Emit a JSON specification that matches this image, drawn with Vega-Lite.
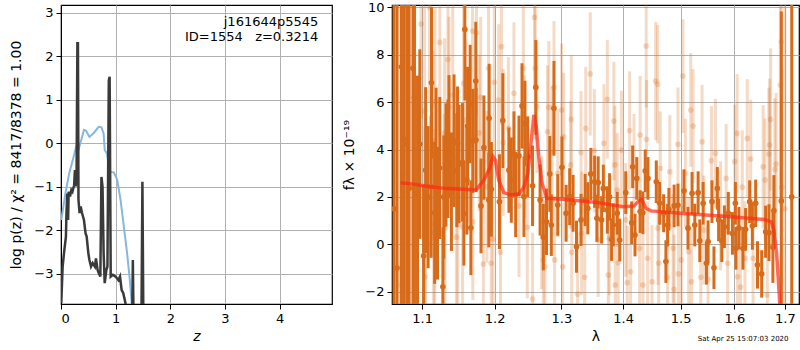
{
"$schema": "https://vega.github.io/schema/vega-lite/v6.json",
"padding": {"left": 9, "top": 0, "right": 0, "bottom": 0},
"background": "white",
"spacing": 9,
"config": {
  "view": {"stroke": "black", "strokeWidth": 1.2},
  "axis": {"gridColor": "#b0b0b0", "gridWidth": 1, "gridOpacity": 1, "domainColor": "black", "tickColor": "black", "labelColor": "black", "titleColor": "black", "labelFont": "DejaVu Sans", "titleFont": "DejaVu Sans", "labelFontSize": 13, "titleFontSize": 14, "titleFontWeight": "normal", "tickSize": 5, "labelPadding": 3, "zindex": 1},
  "text": {"font": "DejaVu Sans"}
},
"datasets": {
  "pzb": [
    {"z":0.006,"p":-1.76},{"z":0.08,"p":-1.15},{"z":0.15,"p":-0.69},{"z":0.23,"p":-0.31},{"z":0.275,"p":-0.08},{"z":0.32,"p":-0.15},{"z":0.37,"p":0.08},{"z":0.42,"p":0.31},{"z":0.46,"p":0.29},{"z":0.52,"p":0.15},{"z":0.6,"p":0.24},{"z":0.69,"p":0.38},{"z":0.74,"p":0.37},{"z":0.78,"p":0.23},{"z":0.8,"p":-0.15},{"z":0.84,"p":-0.23},{"z":0.89,"p":-0.65},{"z":0.97,"p":-0.67},{"z":1.03,"p":-0.84},{"z":1.09,"p":-1.3},{"z":1.15,"p":-1.91},{"z":1.21,"p":-2.52},{"z":1.26,"p":-3.14},{"z":1.29,"p":-3.6},{"z":1.31,"p":-4.0}
  ],
  "pz": [
    {"z":0.005,"p":-3.67},{"z":0.03,"p":-2.83},{"z":0.055,"p":-2.52},{"z":0.09,"p":-2.14},{"z":0.1,"p":-1.6},{"z":0.115,"p":-1.15},{"z":0.13,"p":-1.76},{"z":0.14,"p":-1.11},{"z":0.165,"p":-1.22},{"z":0.19,"p":-1.07},{"z":0.21,"p":-1.11},{"z":0.24,"p":-0.96},{"z":0.255,"p":-0.61},{"z":0.27,"p":-0.99},{"z":0.285,"p":-0.7},{"z":0.3,"p":2.3},{"z":0.31,"p":2.3},{"z":0.32,"p":-1.3},{"z":0.34,"p":-1.6},{"z":0.36,"p":-1.45},{"z":0.385,"p":-1.6},{"z":0.42,"p":-1.76},{"z":0.45,"p":-2.07},{"z":0.47,"p":-2.14},{"z":0.5,"p":-2.52},{"z":0.52,"p":-2.68},{"z":0.55,"p":-2.83},{"z":0.58,"p":-2.75},{"z":0.62,"p":-2.83},{"z":0.64,"p":-2.64},{"z":0.67,"p":-2.91},{"z":0.69,"p":-2.98},{"z":0.72,"p":-3.06},{"z":0.74,"p":-0.77},{"z":0.76,"p":-0.99},{"z":0.78,"p":-2.52},{"z":0.8,"p":-3.21},{"z":0.83,"p":-2.91},{"z":0.85,"p":-2.83},{"z":0.875,"p":1.45},{"z":0.89,"p":1.53},{"z":0.91,"p":-3.06},{"z":0.95,"p":-3.02},{"z":1.0,"p":-3.06},{"z":1.05,"p":-3.14},{"z":1.08,"p":-3.06},{"z":1.11,"p":-3.37},{"z":1.14,"p":-3.44},{"z":1.18,"p":-3.67},{"z":1.2,"p":-4.5},{"z":1.27,"p":-4.5},{"z":1.3,"p":-4.3},{"z":1.315,"p":-2.68},{"z":1.33,"p":-4.3},{"z":1.47,"p":-4.5},{"z":1.49,"p":-0.88},{"z":1.51,"p":-4.5}
  ],
  "light": [
    {"l":1.0723,"f":-1.72,"e":8},{"l":1.0791,"f":3.0,"e":8},{"l":1.0932,"f":-2.25,"e":5},{"l":1.0987,"f":9.3,"e":4},{"l":1.1033,"f":5.62,"e":4.5},{"l":1.1038,"f":0.95,"e":4},{"l":1.1042,"f":-1.37,"e":4},{"l":1.1097,"f":10.0,"e":4},{"l":1.1144,"f":4.16,"e":4},{"l":1.1153,"f":0.49,"e":4},{"l":1.1167,"f":0.86,"e":4},{"l":1.1172,"f":6.02,"e":4},{"l":1.1236,"f":8.52,"e":4},{"l":1.1297,"f":2.0,"e":3.5},{"l":1.1301,"f":4.7,"e":4},{"l":1.1305,"f":0.68,"e":3.5},{"l":1.1347,"f":7.8,"e":4},{"l":1.1361,"f":5.8,"e":3.8},{"l":1.1412,"f":6.3,"e":3.8},{"l":1.1462,"f":0.3,"e":3.5},{"l":1.1482,"f":0.81,"e":3.5},
    {"l":1.1547,"f":0.74,"e":3.4},{"l":1.1561,"f":6.79,"e":3.5},{"l":1.1593,"f":5.24,"e":3.4},{"l":1.1625,"f":4.19,"e":3.3},{"l":1.1686,"f":9.0,"e":3.5},{"l":1.169,"f":0.95,"e":3.3},{"l":1.1742,"f":8.93,"e":3.5},{"l":1.178,"f":4.7,"e":3.3},{"l":1.1801,"f":6.2,"e":3.4},{"l":1.1839,"f":-0.83,"e":3.3},{"l":1.1889,"f":2.43,"e":3.2},{"l":1.1913,"f":7.43,"e":3.3},{"l":1.1951,"f":-0.8,"e":3.2},{"l":1.1978,"f":0.21,"e":3.2},{"l":1.1996,"f":6.84,"e":3.3},{"l":1.2059,"f":6.09,"e":3.2},{"l":1.2085,"f":-0.34,"e":3.2},{"l":1.21,"f":8.34,"e":3.3},{"l":1.2125,"f":4.3,"e":3.1},{"l":1.22,"f":4.9,"e":3},{"l":1.2282,"f":6.37,"e":3},{"l":1.2356,"f":1.62,"e":3},{"l":1.2421,"f":7.43,"e":3},{"l":1.244,"f":4.12,"e":3},{"l":1.248,"f":0.72,"e":3},
    {"l":1.2559,"f":-2.31,"e":2.8},{"l":1.2589,"f":9.58,"e":3},{"l":1.26,"f":7.43,"e":3},{"l":1.2623,"f":5.81,"e":2.8},{"l":1.2697,"f":0.91,"e":2.8},{"l":1.2722,"f":-0.66,"e":2.8},{"l":1.2747,"f":-0.95,"e":2.8},{"l":1.2786,"f":4.75,"e":2.8},{"l":1.2807,"f":5.78,"e":2.8},{"l":1.2856,"f":3.87,"e":2.8},{"l":1.2886,"f":6.62,"e":2.8},{"l":1.2896,"f":-0.66,"e":2.7},{"l":1.2945,"f":3.0,"e":2.7},{"l":1.3005,"f":5.67,"e":2.8},{"l":1.3021,"f":-0.95,"e":2.7},{"l":1.3038,"f":4.54,"e":2.7},{"l":1.3148,"f":3.35,"e":2.7},{"l":1.3157,"f":5.27,"e":2.7},{"l":1.3163,"f":-0.34,"e":2.7},{"l":1.3256,"f":-2.1,"e":2.6},{"l":1.3311,"f":3.87,"e":2.6},{"l":1.3321,"f":0.46,"e":2.6},{"l":1.337,"f":-1.39,"e":2.6},{"l":1.3387,"f":4.89,"e":2.6},{"l":1.3459,"f":7.19,"e":2.6},{"l":1.3525,"f":3.95,"e":2.6},
    {"l":1.3588,"f":0.18,"e":2.4},{"l":1.3682,"f":4.26,"e":2.5},{"l":1.3738,"f":6.12,"e":2.5},{"l":1.3754,"f":-1.3,"e":2.4},{"l":1.3771,"f":0.25,"e":2.4},{"l":1.3846,"f":5.2,"e":2.5},{"l":1.3863,"f":3.35,"e":2.5},{"l":1.3868,"f":-1.72,"e":2.4},{"l":1.3902,"f":2.29,"e":2.4},{"l":1.3918,"f":-0.78,"e":2.4},{"l":1.3972,"f":3.98,"e":2.5},{"l":1.4045,"f":1.03,"e":2.4},{"l":1.407,"f":-1.62,"e":2.4},{"l":1.411,"f":4.8,"e":2.5},{"l":1.4127,"f":-1.16,"e":2.4},{"l":1.4185,"f":3.1,"e":2.4},{"l":1.428,"f":-0.17,"e":2.4},{"l":1.429,"f":4.61,"e":2.5},{"l":1.4337,"f":-1.72,"e":2.4},{"l":1.4394,"f":8.37,"e":2.6},{"l":1.44,"f":4.43,"e":2.5},{"l":1.4419,"f":-0.59,"e":2.4},{"l":1.4494,"f":-1.58,"e":2.4},{"l":1.4558,"f":6.89,"e":2.5},{"l":1.4593,"f":6.76,"e":2.5},{"l":1.46,"f":0.68,"e":2.4},{"l":1.4611,"f":-0.8,"e":2.4},{"l":1.4639,"f":3.21,"e":2.4},
    {"l":1.4768,"f":-1.39,"e":2.3},{"l":1.4808,"f":3.06,"e":2.4},{"l":1.4866,"f":-0.17,"e":2.3},{"l":1.4884,"f":-1.9,"e":2.3},{"l":1.4953,"f":4.22,"e":2.4},{"l":1.496,"f":-1.25,"e":2.3},{"l":1.5013,"f":-0.66,"e":2.3},{"l":1.5042,"f":7.1,"e":2.4},{"l":1.5087,"f":3.0,"e":2.3},{"l":1.5147,"f":-0.31,"e":2.3},{"l":1.5184,"f":5.67,"e":2.4},{"l":1.5197,"f":-1.58,"e":2.3},{"l":1.5227,"f":4.99,"e":2.4},{"l":1.5368,"f":-1.39,"e":2.3},{"l":1.5392,"f":4.33,"e":2.4},{"l":1.5424,"f":0.6,"e":2.3},{"l":1.5503,"f":-1.48,"e":2.3},{"l":1.5566,"f":3.53,"e":2.3},{"l":1.564,"f":3.84,"e":2.3},{"l":1.5737,"f":1.2,"e":2.3},{"l":1.5843,"f":2.78,"e":2.3},{"l":1.5871,"f":-0.8,"e":2.3},
    {"l":1.6008,"f":3.49,"e":2.4},{"l":1.6053,"f":4.68,"e":2.5},{"l":1.606,"f":-1.37,"e":2.4},{"l":1.6118,"f":-1.81,"e":2.4},{"l":1.6152,"f":2.41,"e":2.4},{"l":1.6205,"f":-0.59,"e":2.4},{"l":1.625,"f":4.47,"e":2.5},{"l":1.6316,"f":3.6,"e":2.5},{"l":1.6363,"f":-0.59,"e":2.4},{"l":1.6562,"f":3.27,"e":2.6},{"l":1.66,"f":2.71,"e":2.6},{"l":1.6645,"f":-2.14,"e":2.6},{"l":1.6675,"f":3.81,"e":2.8},{"l":1.6691,"f":4.19,"e":2.8},{"l":1.671,"f":5.27,"e":3},{"l":1.6797,"f":3.16,"e":3},{"l":1.6822,"f":3.39,"e":3},{"l":1.6907,"f":6.72,"e":5},{"l":1.6927,"f":8.55,"e":6},{"l":1.694,"f":2.41,"e":5},{"l":1.7,"f":1.5,"e":12}
  ],
  "dark": [
    {"l":1.0636,"f":1.5,"e":12},{"l":1.0675,"f":-1.0,"e":12},{"l":1.073,"f":7.49,"e":12},{"l":1.076,"f":4.44,"e":12},{"l":1.08,"f":4.23,"e":11},{"l":1.083,"f":2.37,"e":10},{"l":1.088,"f":7.43,"e":10},{"l":1.09,"f":6.2,"e":9},{"l":1.094,"f":2.12,"e":5},{"l":1.097,"f":4.23,"e":4},{"l":1.102,"f":-0.49,"e":3},{"l":1.1047,"f":3.13,"e":3.5},{"l":1.108,"f":1.99,"e":3},{"l":1.112,"f":2.43,"e":3},{"l":1.1125,"f":6.82,"e":3.2},{"l":1.1167,"f":1.33,"e":3},{"l":1.1186,"f":3.81,"e":2.8},{"l":1.1205,"f":1.31,"e":2.8},{"l":1.1236,"f":3.22,"e":3},{"l":1.1278,"f":-1.79,"e":2.5},{"l":1.129,"f":2.0,"e":2.6},{"l":1.132,"f":3.35,"e":2.6},{"l":1.1347,"f":3.61,"e":2.5},{"l":1.1361,"f":4.54,"e":2.6},{"l":1.1394,"f":2.22,"e":2.5},{"l":1.143,"f":4.37,"e":2.8},{"l":1.1468,"f":3.13,"e":2.4},{"l":1.1478,"f":4.26,"e":2.4},{"l":1.15,"f":3.39,"e":2.5},
    {"l":1.1547,"f":3.46,"e":2.5},{"l":1.1565,"f":1.3,"e":2.2},{"l":1.1579,"f":9.07,"e":3},{"l":1.1607,"f":2.71,"e":2.3},{"l":1.1617,"f":4.99,"e":2.5},{"l":1.1653,"f":5.92,"e":2.5},{"l":1.1663,"f":0.7,"e":2},{"l":1.169,"f":4.36,"e":2.2},{"l":1.1732,"f":6.89,"e":2.5},{"l":1.1736,"f":4.4,"e":2.2},{"l":1.1806,"f":1.62,"e":2},{"l":1.1847,"f":4.08,"e":2.2},{"l":1.1917,"f":1.87,"e":2},{"l":1.1922,"f":5.32,"e":2.3},{"l":1.1954,"f":2.32,"e":2},{"l":1.207,"f":1.8,"e":2},{"l":1.2119,"f":5.22,"e":2},{"l":1.2208,"f":3.13,"e":1.8},{"l":1.2243,"f":2.71,"e":1.8},{"l":1.2282,"f":3.81,"e":1.8},{"l":1.2307,"f":2.1,"e":1.8},{"l":1.2356,"f":3.73,"e":1.7},{"l":1.2401,"f":5.84,"e":1.8},{"l":1.243,"f":2.01,"e":1.7},{"l":1.2445,"f":5.1,"e":1.8},{"l":1.2485,"f":3.7,"e":1.7},
    {"l":1.2559,"f":2.47,"e":1.7},{"l":1.2608,"f":6.62,"e":2},{"l":1.2673,"f":1.87,"e":1.5},{"l":1.2722,"f":0.3,"e":1.4},{"l":1.2771,"f":0.95,"e":1.4},{"l":1.2822,"f":2.97,"e":1.6},{"l":1.2845,"f":0.81,"e":1.3},{"l":1.2886,"f":5.74,"e":2},{"l":1.2945,"f":1.66,"e":1.3},{"l":1.301,"f":3.25,"e":1.3},{"l":1.3075,"f":1.31,"e":1.2},{"l":1.3131,"f":2.01,"e":1.2},{"l":1.3185,"f":1.73,"e":1.2},{"l":1.3239,"f":-0.1,"e":1.1},{"l":1.3311,"f":1.03,"e":1.1},{"l":1.3377,"f":1.87,"e":1.1},{"l":1.342,"f":1.52,"e":1.1},{"l":1.3469,"f":2.97,"e":1.1},{"l":1.353,"f":2.64,"e":1.1},{"l":1.3567,"f":1.1,"e":1.0},
    {"l":1.3588,"f":2.61,"e":1.1},{"l":1.3644,"f":1.03,"e":1.0},{"l":1.3672,"f":2.36,"e":1.0},{"l":1.3738,"f":1.45,"e":1.0},{"l":1.3775,"f":2.0,"e":1.0},{"l":1.3808,"f":0.2,"e":0.9},{"l":1.3836,"f":0.81,"e":0.9},{"l":1.3902,"f":1.31,"e":0.9},{"l":1.3944,"f":0.18,"e":0.9},{"l":1.4045,"f":2.18,"e":0.9},{"l":1.4145,"f":0.91,"e":0.9},{"l":1.4162,"f":3.27,"e":0.9},{"l":1.4202,"f":0.39,"e":0.9},{"l":1.4232,"f":2.78,"e":0.9},{"l":1.429,"f":1.38,"e":0.9},{"l":1.4337,"f":1.33,"e":0.9},{"l":1.4377,"f":3.1,"e":0.9},{"l":1.4424,"f":2.78,"e":0.9},{"l":1.4569,"f":2.64,"e":0.9},{"l":1.4628,"f":1.73,"e":0.9},{"l":1.4698,"f":1.31,"e":0.8},
    {"l":1.4738,"f":-0.73,"e":0.9},{"l":1.4768,"f":0.81,"e":0.9},{"l":1.4791,"f":1.48,"e":0.9},{"l":1.4884,"f":1.62,"e":0.9},{"l":1.4953,"f":1.66,"e":0.9},{"l":1.5061,"f":2.26,"e":0.9},{"l":1.5134,"f":0.68,"e":0.9},{"l":1.5208,"f":2.15,"e":0.9},{"l":1.5258,"f":0.81,"e":0.9},{"l":1.5319,"f":2.18,"e":0.9},{"l":1.535,"f":0.15,"e":0.9},{"l":1.5411,"f":1.73,"e":0.9},{"l":1.5473,"f":-0.8,"e":0.9},{"l":1.5503,"f":0.11,"e":0.9},{"l":1.5576,"f":1.8,"e":0.9},{"l":1.5613,"f":-0.99,"e":0.9},{"l":1.5676,"f":2.36,"e":0.9},{"l":1.57,"f":1.03,"e":0.9},{"l":1.576,"f":0.15,"e":0.9},{"l":1.581,"f":0.74,"e":0.9},{"l":1.5884,"f":1.31,"e":0.9},{"l":1.5963,"f":0.46,"e":0.9},
    {"l":1.602,"f":1.73,"e":0.9},{"l":1.603,"f":-0.17,"e":0.9},{"l":1.6087,"f":0.68,"e":0.9},{"l":1.6166,"f":-0.17,"e":0.9},{"l":1.6217,"f":0.63,"e":0.9},{"l":1.6296,"f":1.8,"e":0.9},{"l":1.6349,"f":0.77,"e":1.0},{"l":1.6414,"f":1.73,"e":1.0},{"l":1.645,"f":-0.87,"e":1.0},{"l":1.6533,"f":-1.25,"e":1.0},{"l":1.6611,"f":0.53,"e":1.1},{"l":1.6678,"f":0.49,"e":1.2},{"l":1.6757,"f":-0.13,"e":1.5},{"l":1.6777,"f":1.42,"e":1.5},{"l":1.6927,"f":1.83,"e":8},{"l":1.714,"f":2,"e":15}
  ],
  "model": [
    {"l":1.072,"f":2.6},{"l":1.0885,"f":2.54},{"l":1.1107,"f":2.43},{"l":1.1339,"f":2.35},{"l":1.1569,"f":2.32},{"l":1.1736,"f":2.29},{"l":1.1847,"f":2.71},{"l":1.193,"f":3.21},{"l":1.1977,"f":3.7},{"l":1.201,"f":3.56},{"l":1.2059,"f":2.71},{"l":1.2134,"f":2.18},{"l":1.2233,"f":2.08},{"l":1.2356,"f":2.12},{"l":1.243,"f":2.43},{"l":1.249,"f":3.0},{"l":1.254,"f":4.4},{"l":1.2579,"f":5.46},{"l":1.2614,"f":4.96},{"l":1.2653,"f":3.7},{"l":1.2703,"f":2.57},{"l":1.2777,"f":1.94},{"l":1.3026,"f":1.9},{"l":1.3572,"f":1.76},{"l":1.401,"f":1.59},{"l":1.4185,"f":1.62},{"l":1.4255,"f":1.8},{"l":1.4314,"f":1.9},{"l":1.4389,"f":1.52},{"l":1.4477,"f":1.41},{"l":1.5,"f":1.31},{"l":1.5922,"f":1.16},{"l":1.658,"f":1.05},{"l":1.6726,"f":0.95},{"l":1.6777,"f":0.6},{"l":1.6832,"f":-0.38},{"l":1.6871,"f":-1.65},{"l":1.6897,"f":-2.52},{"l":1.692,"f":-4.0}
  ]
},
"hconcat": [
  {
    "width": 271, "height": 299,
    "layer": [
      {"data": {"name": "pzb"}, "mark": {"type": "line", "color": "#86b7dc", "strokeWidth": 2, "clip": true},
       "encoding": {
         "x": {"field": "z", "type": "quantitative", "scale": {"domain": [0, 4.96], "nice": false}, "axis": {"values": [0,1,2,3,4], "titleFontStyle": "italic", "titlePadding": 4}, "title": "z"},
         "y": {"field": "p", "type": "quantitative", "scale": {"domain": [-3.69, 3.18], "nice": false}, "axis": {"values": [-3,-2,-1,0,1,2,3], "titlePadding": 10}, "title": "log p(z) / χ² = 8417/8378 = 1.00"}}},
      {"data": {"name": "pz"}, "mark": {"type": "line", "color": "#3a3a3a", "strokeWidth": 2.5, "clip": true},
       "encoding": {
         "x": {"field": "z", "type": "quantitative", "title": "z"},
         "y": {"field": "p", "type": "quantitative", "title": "log p(z) / χ² = 8417/8378 = 1.00"}}},
      {"data": {"values": [{"t": "j161644p5545"}]},
       "mark": {"type": "text", "align": "right", "baseline": "middle", "fontSize": 13, "color": "black"},
       "encoding": {"x": {"datum": 4.71, "type": "quantitative"}, "y": {"datum": 2.79, "type": "quantitative"}, "text": {"field": "t", "type": "nominal"}}},
      {"data": {"values": [{"t": "ID=1554\u00a0\u00a0\u00a0z=0.3214"}]},
       "mark": {"type": "text", "align": "right", "baseline": "middle", "fontSize": 13, "color": "black"},
       "encoding": {"x": {"datum": 4.71, "type": "quantitative"}, "y": {"datum": 2.45, "type": "quantitative"}, "text": {"field": "t", "type": "nominal"}}}
    ]
  },
  {
    "width": 407, "height": 299,
    "layer": [
      {"data": {"name": "light"}, "mark": {"type": "errorbar", "color": "#d86b1a", "opacity": 0.25, "thickness": 3, "clip": true},
       "encoding": {
         "x": {"field": "l", "type": "quantitative", "scale": {"type": "log", "domain": [1.061, 1.729], "nice": false}, "axis": {"values": [1.1,1.2,1.3,1.4,1.5,1.6,1.7], "format": ".1f", "titlePadding": 4}, "title": "λ"},
         "y": {"field": "f", "type": "quantitative", "scale": {"domain": [-2.52, 10.1], "nice": false}, "axis": {"values": [-2,0,2,4,6,8,10], "titlePadding": 8}, "title": "fλ × 10⁻¹⁹"},
         "yError": {"field": "e"}}},
      {"data": {"name": "light"}, "mark": {"type": "circle", "color": "#d86b1a", "opacity": 0.25, "size": 32, "clip": true},
       "encoding": {
         "x": {"field": "l", "type": "quantitative", "title": "λ"},
         "y": {"field": "f", "type": "quantitative", "title": "fλ × 10⁻¹⁹"}}},
      {"data": {"name": "dark"}, "mark": {"type": "errorbar", "color": "#d86b1a", "opacity": 1, "thickness": 3, "clip": true},
       "encoding": {
         "x": {"field": "l", "type": "quantitative", "title": "λ"},
         "y": {"field": "f", "type": "quantitative", "title": "fλ × 10⁻¹⁹"},
         "yError": {"field": "e"}}},
      {"data": {"name": "dark"}, "mark": {"type": "circle", "color": "#d86b1a", "opacity": 1, "size": 32, "clip": true},
       "encoding": {
         "x": {"field": "l", "type": "quantitative", "title": "λ"},
         "y": {"field": "f", "type": "quantitative", "title": "fλ × 10⁻¹⁹"}}},
      {"data": {"name": "model"}, "mark": {"type": "line", "color": "#ff2a14", "opacity": 0.7, "strokeWidth": 3.5, "clip": true},
       "encoding": {
         "x": {"field": "l", "type": "quantitative", "title": "λ"},
         "y": {"field": "f", "type": "quantitative", "title": "fλ × 10⁻¹⁹"}}},
      {"mark": {"type": "rule", "color": "black", "strokeWidth": 2, "strokeDash": [2, 3]},
       "encoding": {"y": {"datum": 0, "type": "quantitative"}}},
      {"data": {"values": [{"t": "Sat Apr 25 15:07:03 2020"}]},
       "mark": {"type": "text", "align": "center", "baseline": "middle", "fontSize": 7, "color": "black", "clip": false},
       "encoding": {"x": {"datum": 1.617, "type": "quantitative"}, "y": {"datum": -4.0, "type": "quantitative"}, "text": {"field": "t", "type": "nominal"}}}
    ]
  }
]
}
